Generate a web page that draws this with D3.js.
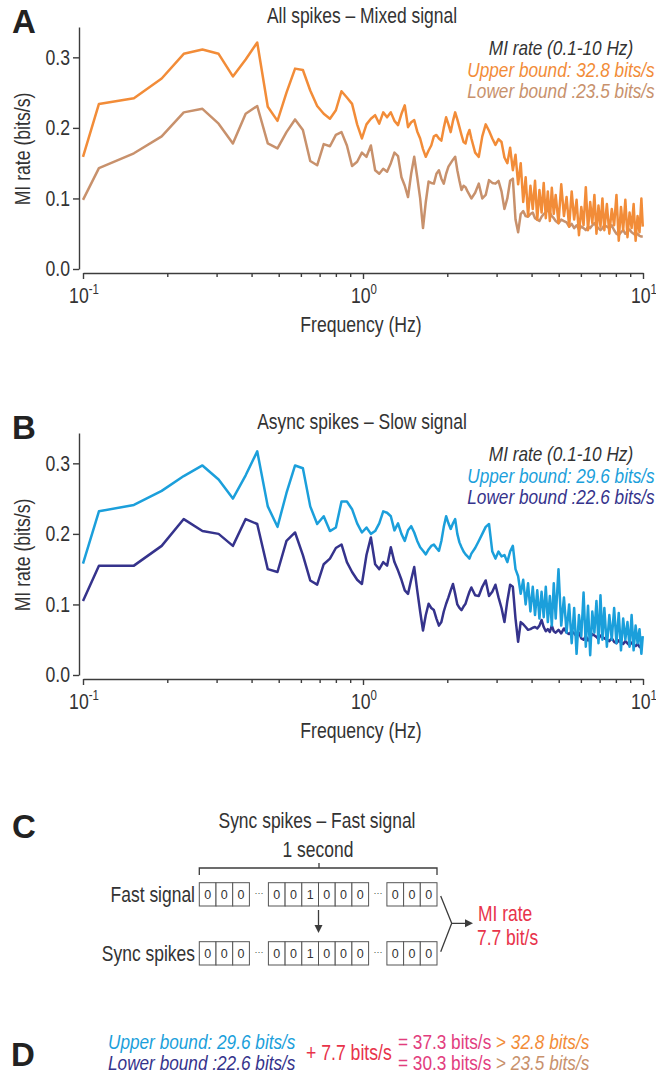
<!DOCTYPE html>
<html><head><meta charset="utf-8">
<script src="https://cdn.jsdelivr.net/npm/d3@7/dist/d3.min.js"></script>
<style>body{margin:0;background:#fff}svg{display:block}</style>
</head><body>
<svg id="chart" width="656" height="1078"></svg>
<script>
// ---------------- DATA ----------------
const freqHz = [0.1,
0.114,0.152,0.191,0.229,0.267,0.305,0.343,0.381,0.419,0.457,
0.495,0.533,0.572,0.610,0.648,0.686,0.724,0.762,0.800,0.838,
0.876,0.914,0.953,0.991,1.029,1.067,1.105,1.143,1.181,1.219,
1.257,1.295,1.334,1.372,1.410,1.448,1.486,1.524,1.562,1.600,
1.638,1.676,1.715,1.753,1.791,1.829,1.867,1.905,1.943,1.981,
2.019,2.057,2.096,2.134,2.172,2.210,2.248,2.286,2.324,2.362,2.400,2.438,
2.515,2.591,2.667,2.743,2.819,2.896,2.972,3.048,3.124,3.200,3.277,3.353,3.429,3.505,3.581,3.658,
3.734,3.810,3.886,3.962,4.039,4.115,4.191,4.267,4.343,4.420,4.496,4.572,4.648,4.724,4.801,4.877,
4.991,5.105,5.220,5.334,5.448,5.563,5.677,5.791,5.906,6.020,6.134,6.248,6.363,6.477,6.591,6.706,6.820,6.934,7.049,7.163,7.277,
7.430,7.582,7.734,7.887,8.039,8.192,8.344,8.496,8.649,8.801,8.954,9.106,9.258,9.411,9.563,9.716,9.868,
9.982];

// Panel A: all spikes – mixed signal (bits/s)
const upperA = [0.159,
0.234,0.242,0.270,0.305,0.311,0.305,0.273,0.297,0.321,0.230,
0.210,0.250,0.284,0.282,0.253,0.231,0.220,0.213,0.225,0.252,
0.243,0.234,0.205,0.185,0.205,0.213,0.218,0.206,0.222,0.215,
0.222,0.210,0.204,0.220,0.232,0.201,0.208,0.211,0.195,0.185,
0.170,0.159,0.168,0.175,0.188,0.190,0.185,0.182,0.200,0.215,
0.205,0.194,0.210,0.222,0.212,0.201,0.190,0.180,0.178,0.190,0.197,0.185,
0.165,0.159,0.188,0.205,0.196,0.185,0.176,0.184,0.180,0.158,0.150,0.172,0.140,0.162,0.120,0.150,
0.095,0.130,0.075,0.118,0.085,0.125,0.070,0.112,0.080,0.122,0.072,0.110,0.068,0.115,0.078,0.105,
0.065,0.120,0.075,0.102,0.060,0.110,0.070,0.098,0.048,0.088,0.062,0.116,0.055,0.095,0.065,0.105,0.050,0.090,0.060,0.100,0.055,
0.092,0.050,0.085,0.062,0.105,0.040,0.088,0.055,0.098,0.045,0.080,0.058,0.092,0.040,0.075,0.052,0.100,
0.060];
const lowerA = [0.098,
0.143,0.164,0.188,0.222,0.227,0.206,0.178,0.220,0.231,0.178,
0.171,0.194,0.212,0.197,0.153,0.147,0.177,0.174,0.190,0.194,
0.175,0.146,0.152,0.165,0.159,0.175,0.140,0.135,0.142,0.138,
0.150,0.165,0.160,0.130,0.118,0.102,0.135,0.159,0.130,0.100,
0.058,0.095,0.124,0.122,0.121,0.135,0.140,0.128,0.121,0.135,
0.145,0.150,0.155,0.159,0.140,0.125,0.112,0.118,0.116,0.110,0.105,0.100,
0.108,0.121,0.100,0.105,0.126,0.122,0.121,0.125,0.110,0.085,0.100,0.125,0.128,0.070,0.052,0.078,
0.082,0.075,0.074,0.078,0.080,0.072,0.070,0.068,0.074,0.078,0.080,0.084,0.080,0.075,0.072,0.068,
0.065,0.070,0.068,0.066,0.060,0.064,0.058,0.062,0.056,0.060,0.058,0.055,0.060,0.058,0.062,0.065,0.060,0.058,0.055,0.058,0.062,
0.060,0.058,0.062,0.055,0.050,0.048,0.052,0.055,0.050,0.053,0.056,0.052,0.050,0.048,0.050,0.047,0.046,
0.046];

// Panel B: async spikes – slow signal (bits/s)
const upperB = [0.158,
0.232,0.241,0.261,0.282,0.297,0.277,0.250,0.283,0.317,0.239,
0.210,0.258,0.297,0.293,0.239,0.214,0.225,0.204,0.209,0.246,
0.246,0.235,0.215,0.202,0.209,0.200,0.204,0.215,0.232,0.230,
0.225,0.205,0.215,0.200,0.190,0.205,0.211,0.202,0.190,0.181,
0.176,0.171,0.178,0.183,0.185,0.180,0.176,0.190,0.210,0.225,
0.215,0.207,0.215,0.221,0.200,0.188,0.181,0.175,0.171,0.168,0.165,0.172,
0.180,0.190,0.200,0.210,0.214,0.175,0.165,0.175,0.168,0.170,0.160,0.175,0.183,0.150,0.140,0.115,
0.135,0.100,0.130,0.090,0.125,0.085,0.120,0.080,0.118,0.082,0.125,0.075,0.112,0.070,0.130,0.080,
0.150,0.070,0.110,0.060,0.100,0.045,0.095,0.030,0.085,0.055,0.117,0.040,0.098,0.028,0.090,0.060,0.105,0.045,0.113,0.050,0.095,
0.040,0.085,0.050,0.095,0.045,0.088,0.035,0.080,0.050,0.075,0.040,0.085,0.035,0.070,0.045,0.065,0.030,
0.055];
const lowerB = [0.105,
0.155,0.155,0.183,0.221,0.204,0.200,0.183,0.221,0.214,0.150,
0.146,0.190,0.202,0.170,0.134,0.128,0.157,0.165,0.180,0.185,
0.160,0.146,0.135,0.129,0.170,0.195,0.157,0.150,0.160,0.155,
0.181,0.160,0.148,0.135,0.120,0.115,0.135,0.153,0.120,0.090,
0.063,0.085,0.101,0.095,0.092,0.080,0.070,0.075,0.090,0.101,
0.110,0.120,0.129,0.115,0.100,0.095,0.092,0.097,0.101,0.110,0.118,0.124,
0.113,0.112,0.125,0.134,0.112,0.118,0.128,0.110,0.095,0.075,0.105,0.128,0.125,0.080,0.047,0.075,
0.072,0.068,0.064,0.065,0.067,0.068,0.066,0.070,0.078,0.068,0.062,0.065,0.061,0.070,0.062,0.060,
0.064,0.059,0.066,0.060,0.058,0.062,0.059,0.055,0.060,0.052,0.050,0.055,0.049,0.053,0.058,0.056,0.054,0.051,0.056,0.054,0.052,
0.050,0.048,0.052,0.047,0.045,0.049,0.046,0.044,0.048,0.045,0.042,0.046,0.043,0.041,0.044,0.040,0.038,
0.038];

const yTicks = [0.0, 0.1, 0.2, 0.3];
const xMajorTicks = [0.1, 1, 10];
const xMajorExp = ["-1", "0", "1"];
const xMinorTicks = [0.2,0.3,0.4,0.5,0.6,0.7,0.8,0.9,2,3,4,5,6,7,8,9];

const panelTitles = ["All spikes \u2013 Mixed signal", "Async spikes \u2013 Slow signal"];
const upperLabels = ["Upper bound: 32.8 bits/s", "Upper bound: 29.6 bits/s"];
const lowerLabels = ["Lower bound :23.5 bits/s", "Lower bound :22.6 bits/s"];

// Panel C bits
const fastBits = [[0,0,0],[0,0,1,0,0,0],[0,0,0]];
const syncBits = [[0,0,0],[0,0,1,0,0,0],[0,0,0]];

[upperA, lowerA, upperB, lowerB].forEach((s,i) => {
  if (s.length !== freqHz.length) throw new Error("length mismatch series " + i + ": " + s.length + " vs " + freqHz.length);
});

// ---------------- FONTS ----------------
function hasFont(name){
  const ctx = document.createElement('canvas').getContext('2d');
  const s = 'MI rate (bits/s) Frequency 0123456789';
  ctx.font = '40px monospace'; const a = ctx.measureText(s).width;
  ctx.font = `40px "${name}", monospace`; const b = ctx.measureText(s).width;
  return Math.abs(a - b) > 0.5;
}
const NARROW = hasFont('Liberation Sans Narrow');
const FAM = NARROW ? "'Liberation Sans Narrow', 'Liberation Sans', sans-serif" : "'Liberation Sans', Arial, sans-serif";
const SX = NARROW ? 1 : 0.82;
const WIDE = "'Liberation Sans', Arial, sans-serif";

const C = {
  upA: "#f28c38", loA: "#c8916c",
  upB: "#1b9fdb", loB: "#35338c",
  axis: "#3c3c3c", text: "#333333",
  red: "#e8334a", pink: "#e23d7e"
};

const svg = d3.select('#chart');

// ---------------- PANELS A & B ----------------
const series = [
  {up: upperA, lo: lowerA, cu: C.upA, cl: C.loA, dy: 0, letter: "A"},
  {up: upperB, lo: lowerB, cu: C.upB, cl: C.loB, dy: 406, letter: "B"}
];

series.forEach((p, i) => {
  const g = svg.append('g').attr('transform', `translate(0,${p.dy})`);
  const x = d3.scaleLog().domain([0.1, 10]).range([83, 643]);
  const y = d3.scaleLinear().domain([0, 0.343]).range([269, 27]);

  const ya = g.append('g').attr('transform', 'translate(79,0)')
    .call(d3.axisLeft(y).tickValues(yTicks).tickFormat(d3.format('.1f'))
      .tickSize(6).tickSizeOuter(0).tickPadding(3));
  const xa = g.append('g').attr('transform', 'translate(0,273)')
    .call(d3.axisBottom(x).tickValues(xMinorTicks).tickFormat('').tickSize(4).tickSizeOuter(0));
  const xm = g.append('g').attr('transform', 'translate(0,273)')
    .call(d3.axisBottom(x).tickValues(xMajorTicks).tickFormat('').tickSize(6).tickSizeOuter(0));
  xm.select('.domain').remove();

  [ya, xa, xm].forEach(a => {
    a.select('.domain').attr('stroke', C.axis).attr('stroke-width', 1.4);
    a.selectAll('.tick line').attr('stroke', C.axis).attr('stroke-width', 1.4);
  });
  ya.selectAll('.tick text').attr('class', 'n').attr('font-family', FAM)
    .attr('font-size', 21.5).attr('fill', C.text);

  xMajorTicks.forEach((v, j) => {
    const t = g.append('text').attr('class', 'n')
      .attr('x', x(v) + 1).attr('y', 303)
      .attr('text-anchor', 'middle').attr('font-family', FAM)
      .attr('font-size', 21.5).attr('fill', C.text);
    t.append('tspan').text('10');
    t.append('tspan').attr('dy', -9).attr('font-size', 14).text(xMajorExp[j]);
  });

  g.append('text').attr('class', 'n').attr('x', 361).attr('y', 332)
    .attr('text-anchor', 'middle').attr('font-family', FAM).attr('font-size', 21.5)
    .attr('fill', C.text).text('Frequency (Hz)');
  g.append('text').attr('class', 'n').attr('transform', 'rotate(-90)')
    .attr('x', -149).attr('y', 30)
    .attr('text-anchor', 'middle').attr('font-family', FAM).attr('font-size', 21.5)
    .attr('fill', C.text).text('MI rate (bits/s)');

  g.append('text').attr('class', 'n').attr('x', 362).attr('y', 23)
    .attr('text-anchor', 'middle').attr('font-family', FAM).attr('font-size', 21.3)
    .attr('fill', C.text).text(panelTitles[i]);

  g.append('text').attr('x', 12).attr('y', 33)
    .attr('font-family', WIDE).attr('font-weight', 'bold').attr('font-size', 33)
    .attr('fill', '#222').text(p.letter);

  const line = d3.line().x((d, k) => x(freqHz[k])).y(d => y(d));
  g.append('path').datum(p.lo).attr('d', line).attr('fill', 'none')
    .attr('stroke', p.cl).attr('stroke-width', 2.5).attr('stroke-linejoin', 'round');
  g.append('path').datum(p.up).attr('d', line).attr('fill', 'none')
    .attr('stroke', p.cu).attr('stroke-width', 2.5).attr('stroke-linejoin', 'round');

  const lx = 561;
  g.append('text').attr('class', 'n').attr('x', lx).attr('y', 55)
    .attr('text-anchor', 'middle').attr('font-family', FAM).attr('font-size', 21)
    .attr('font-style', 'italic').attr('fill', C.text).text('MI rate (0.1-10 Hz)');
  g.append('text').attr('class', 'n').attr('x', lx).attr('y', 77)
    .attr('text-anchor', 'middle').attr('font-family', FAM).attr('font-size', 21)
    .attr('font-style', 'italic').attr('fill', p.cu).text(upperLabels[i]);
  g.append('text').attr('class', 'n').attr('x', lx).attr('y', 98)
    .attr('text-anchor', 'middle').attr('font-family', FAM).attr('font-size', 21)
    .attr('font-style', 'italic').attr('fill', p.cl).text(lowerLabels[i]);
});

// ---------------- PANEL C ----------------
const gc = svg.append('g');
gc.append('text').attr('x', 12).attr('y', 838)
  .attr('font-family', WIDE).attr('font-weight', 'bold').attr('font-size', 33)
  .attr('fill', '#222').text('C');
gc.append('text').attr('class', 'n').attr('x', 317).attr('y', 828)
  .attr('text-anchor', 'middle').attr('font-family', FAM).attr('font-size', 21.3)
  .attr('fill', C.text).text('Sync spikes \u2013 Fast signal');
gc.append('text').attr('class', 'n').attr('x', 318).attr('y', 857)
  .attr('text-anchor', 'middle').attr('font-family', FAM).attr('font-size', 21.3)
  .attr('fill', C.text).text('1 second');

const boxW = 16.7, boxH = 23.3, gapW = 19;
const slotX = (gi, bi) => 199.3 + (gi === 0 ? 0 : gi === 1 ? 3 * boxW + gapW : 9 * boxW + 2 * gapW - 0.7) + bi * boxW;

gc.append('path').attr('d', `M${slotX(0,0)},875V868H${slotX(2,3)}V875M319,868V863`)
  .attr('fill', 'none').attr('stroke', C.axis).attr('stroke-width', 1.3);

function drawRow(bits, y0, label) {
  gc.append('text').attr('class', 'n').attr('x', 195).attr('y', y0 + 19)
    .attr('text-anchor', 'end').attr('font-family', FAM).attr('font-size', 21.3)
    .attr('fill', C.text).text(label);
  bits.forEach((grp, gi) => {
    grp.forEach((b, bi) => {
      gc.append('rect').attr('x', slotX(gi, bi)).attr('y', y0)
        .attr('width', boxW).attr('height', boxH)
        .attr('fill', '#fff').attr('stroke', '#555').attr('stroke-width', 1);
      gc.append('text').attr('x', slotX(gi, bi) + boxW / 2).attr('y', y0 + 16)
        .attr('text-anchor', 'middle').attr('font-family', WIDE).attr('font-size', 12.5)
        .attr('fill', '#333').text(b);
    });
    if (gi < bits.length - 1) {
      gc.append('text').attr('x', slotX(gi, grp.length) + gapW / 2).attr('y', y0 + 13)
        .attr('text-anchor', 'middle').attr('font-family', WIDE).attr('font-size', 9)
        .attr('fill', '#444').text('\u00b7\u00b7\u00b7');
    }
  });
}
drawRow(fastBits, 882.7, 'Fast signal');
drawRow(syncBits, 941.7, 'Sync spikes');

gc.append('line').attr('x1', 318.5).attr('x2', 318.5).attr('y1', 910).attr('y2', 926)
  .attr('stroke', C.axis).attr('stroke-width', 1.3);
gc.append('path').attr('d', 'M314.5,925L322.5,925L318.5,933Z').attr('fill', C.axis);
gc.append('path').attr('d', 'M440.7,896L451.7,923.3L440.7,951.7M451.7,923.3H466')
  .attr('fill', 'none').attr('stroke', C.axis).attr('stroke-width', 1.3);
gc.append('path').attr('d', 'M465,919.3L473,923.3L465,927.3Z').attr('fill', C.axis);
gc.append('text').attr('class', 'n').attr('x', 478).attr('y', 921)
  .attr('font-family', FAM).attr('font-size', 21.3).attr('fill', C.red).text('MI rate');
gc.append('text').attr('class', 'n').attr('x', 477).attr('y', 945)
  .attr('font-family', FAM).attr('font-size', 21.3).attr('fill', C.red).text('7.7 bit/s');

// ---------------- PANEL D ----------------
const gd = svg.append('g');
gd.append('text').attr('x', 11).attr('y', 1066)
  .attr('font-family', WIDE).attr('font-weight', 'bold').attr('font-size', 33)
  .attr('fill', '#222').text('D');
function dtext(x, y, parts, fs) {
  const t = gd.append('text').attr('class', 'n').attr('x', x).attr('y', y)
    .attr('font-family', FAM).attr('font-size', fs || 21);
  parts.forEach(p => t.append('tspan').attr('fill', p.c).attr('font-style', p.i ? 'italic' : 'normal').text(p.t));
}
dtext(108, 1049, [{t: 'Upper bound: 29.6 bits/s', c: C.upB, i: true}]);
dtext(108, 1070, [{t: 'Lower bound :22.6 bits/s', c: C.loB, i: true}]);
dtext(306, 1060, [{t: '+ 7.7 bits/s', c: C.red}], 21.5);
dtext(398, 1049, [{t: '= 37.3 bits/s ', c: C.pink}, {t: '> ', c: C.upA}, {t: '32.8 bits/s', c: C.upA, i: true}]);
dtext(398, 1070, [{t: '= 30.3 bits/s ', c: C.pink}, {t: '> ', c: C.loA}, {t: '23.5 bits/s', c: C.loA, i: true}]);

// ---------------- narrow emulation if needed ----------------
if (SX !== 1) {
  svg.selectAll('text.n').each(function () {
    const el = d3.select(this);
    const x = +el.attr('x') || 0;
    const t = el.attr('transform') || '';
    el.attr('transform', `${t} translate(${x * (1 - SX)},0) scale(${SX},1)`);
  });
}
</script>
</body></html>
